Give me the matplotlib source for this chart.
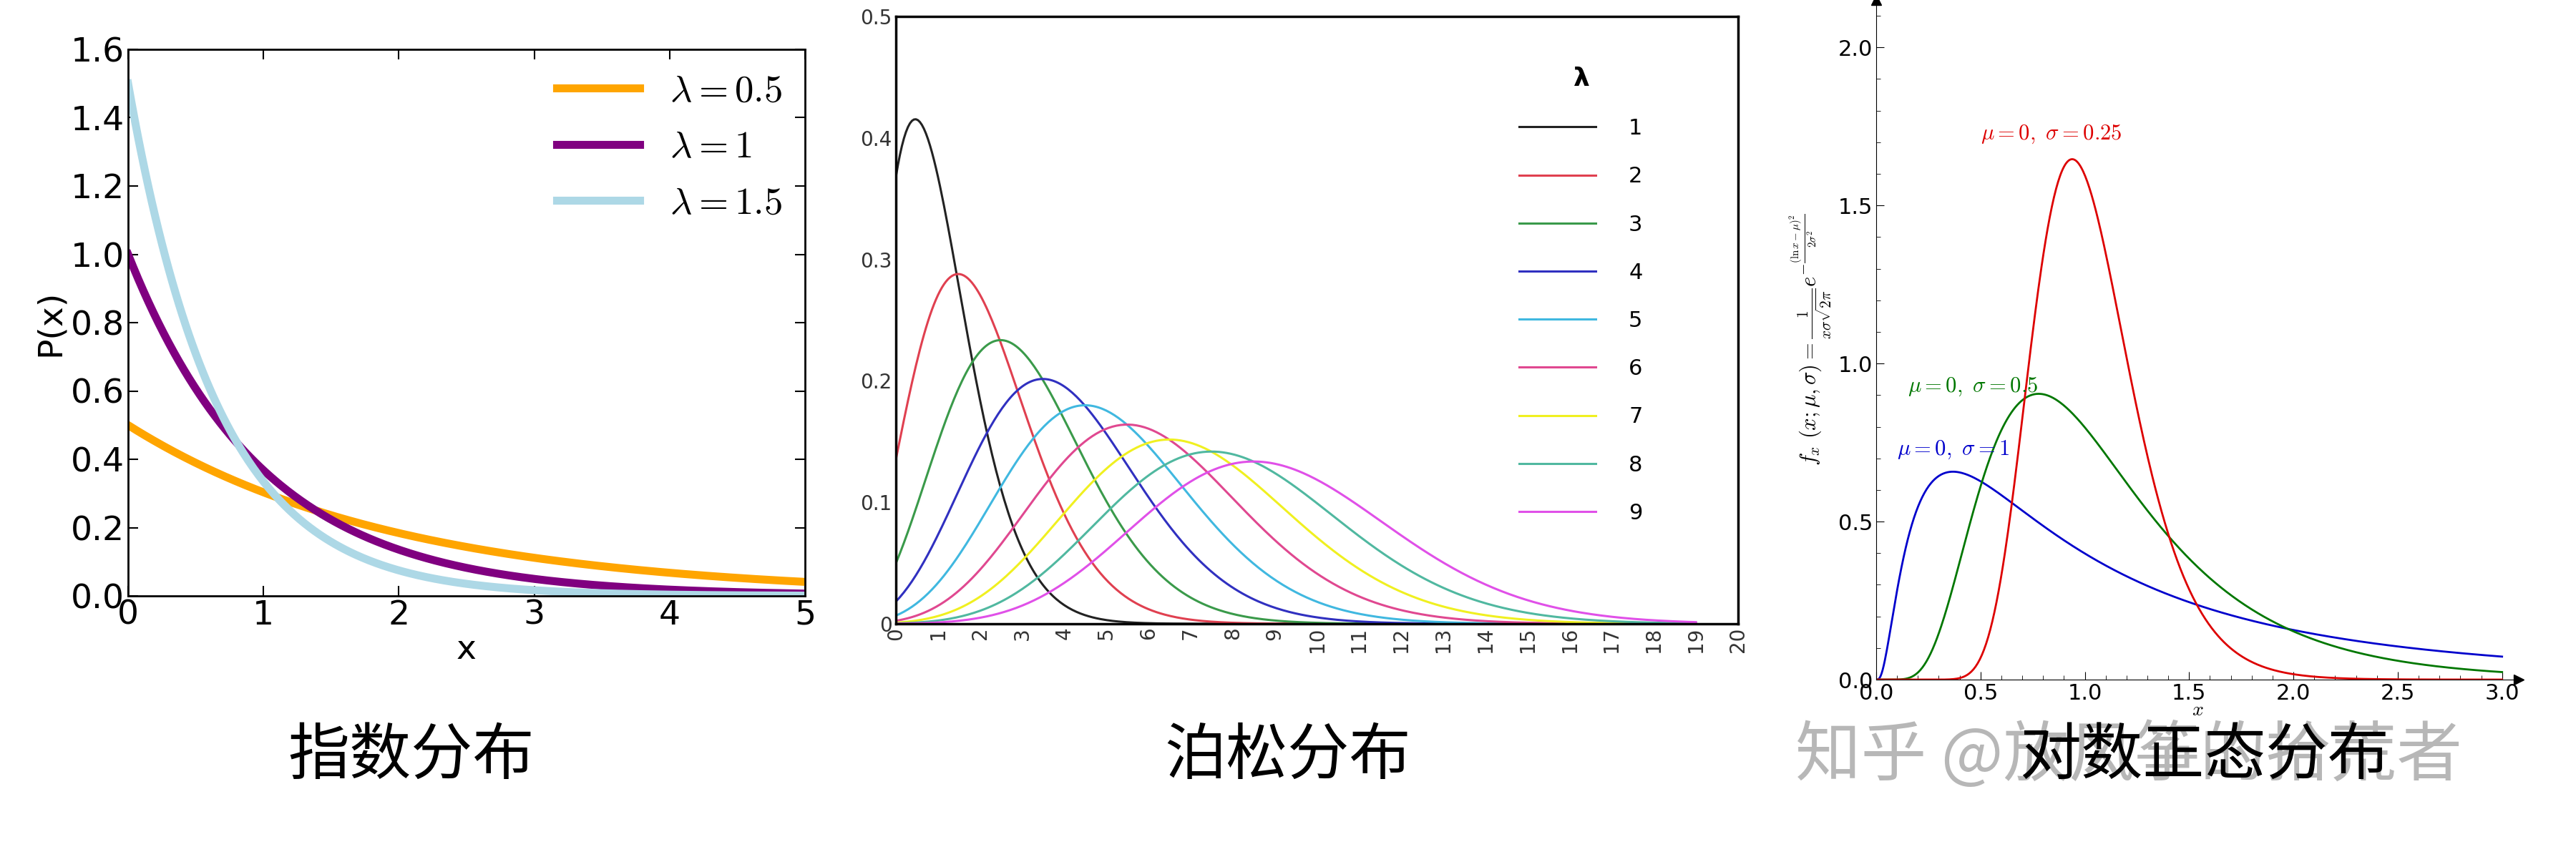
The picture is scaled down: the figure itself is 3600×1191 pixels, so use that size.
import math
import numpy as np
import matplotlib
matplotlib.use("Agg")
import matplotlib.pyplot as plt

plt.rcParams['font.family'] = ['DejaVu Sans', 'Noto Sans CJK SC']

# Data (distribution parameters)
exp_lambdas = [0.5, 1, 1.5]
exp_colors = ['orange', 'purple', 'lightblue']
poisson_lambdas = [1, 2, 3, 4, 5, 6, 7, 8, 9]
poisson_colors = ['#222222', '#e04050', '#3a9a4a', '#3030c0', '#40b8e0',
                  '#e04890', '#f0f020', '#50b8a0', '#e050e8']
lognorm_params = [(0, 1.0), (0, 0.5), (0, 0.25)]
lognorm_colors = ['#0000cc', '#007700', '#dd0000']
lognorm_labels = [r'$\mu=0,\ \sigma=1$', r'$\mu=0,\ \sigma=0.5$', r'$\mu=0,\ \sigma=0.25$']
lognorm_label_pos = [(0.1, 0.71), (0.15, 0.91), (0.5, 1.71)]
titles = ['指数分布', '泊松分布', '对数正态分布']

W, H = 3600, 1191
fig = plt.figure(figsize=(W/100, H/100), dpi=100)

def ax_at(l, r, t, b):
    return fig.add_axes([l/W, 1-b/H, (r-l)/W, (b-t)/H])

# Panel 1: exponential
ax1 = ax_at(179, 1125, 69, 833)
x = np.linspace(0, 5, 400)
for lam, c in zip(exp_lambdas, exp_colors):
    ax1.plot(x, lam*np.exp(-lam*x), color=c, lw=8, label=r'$\lambda=%g$' % lam)
ax1.set_xlim(0, 5); ax1.set_ylim(0, 1.6)
ax1.set_yticks(np.arange(0, 1.61, 0.2))
ax1.tick_params(labelsize=34, length=10, width=1.5, direction='in', right=True, top=True)
ax1.set_xlabel('x', fontsize=34, labelpad=2)
ax1.set_ylabel('P(x)', fontsize=34)
for s in ax1.spines.values(): s.set_linewidth(2)
leg1 = ax1.legend(fontsize=38, frameon=False, loc='upper right', handlelength=2.2,
                  borderaxespad=0.2)
for t in leg1.get_texts():
    t.set_math_fontfamily('cm')

# Panel 2: Poisson (continuous via gamma)
ax2 = ax_at(1252, 2429, 23, 872)
xs = np.linspace(0, 19, 400)
for lam, c in zip(poisson_lambdas, poisson_colors):
    y = np.array([math.exp(xx*math.log(lam) - lam - math.lgamma(xx+1)) for xx in xs])
    ax2.plot(xs, y, color=c, lw=2.2, label=str(lam))
ax2.set_xlim(0, 20); ax2.set_ylim(0, 0.5)
ax2.set_xticks(range(0, 21))
ax2.set_yticks([0, 0.1, 0.2, 0.3, 0.4, 0.5])
ax2.set_yticklabels(['0', '0.1', '0.2', '0.3', '0.4', '0.5'])
ax2.tick_params(axis='x', labelrotation=90, labelsize=20, colors='#333333', length=0)
ax2.tick_params(axis='y', labelsize=20, colors='#333333', length=0, pad=4)
for s in ax2.spines.values(): s.set_linewidth(2.5)
leg = ax2.legend(title=r'$\mathbf{\lambda}$', fontsize=22, frameon=False,
                 loc='upper right', bbox_to_anchor=(0.91, 0.95), handlelength=3.5,
                 labelspacing=1.25, handletextpad=1.5)
leg.get_title().set_fontsize(26)

# Panel 3: lognormal
ax3 = ax_at(2622, 3520, 0, 950)
x3 = np.linspace(0.001, 3, 600)
for (mu, sg), c, lab, pos in zip(lognorm_params, lognorm_colors, lognorm_labels, lognorm_label_pos):
    y = 1/(x3*sg*np.sqrt(2*np.pi))*np.exp(-(np.log(x3)-mu)**2/(2*sg**2))
    ax3.plot(x3, y, color=c, lw=2)
    ax3.text(pos[0], pos[1], lab, color=c, fontsize=22, math_fontfamily='cm')
ax3.set_xlim(0, 3.08); ax3.set_ylim(0, 2.15)
ax3.set_xticks(np.arange(0, 3.01, 0.5))
ax3.set_yticks([0, 0.5, 1.0, 1.5, 2.0])
ax3.set_xticks(np.arange(0, 3.01, 0.1), minor=True)
ax3.set_yticks(np.arange(0, 2.11, 0.1), minor=True)
ax3.xaxis.set_major_formatter(matplotlib.ticker.FormatStrFormatter('%.1f'))
ax3.yaxis.set_major_formatter(matplotlib.ticker.FormatStrFormatter('%.1f'))
ax3.tick_params(labelsize=22, direction='in', length=8, which='major')
ax3.tick_params(direction='in', length=4, which='minor')
ax3.spines['top'].set_visible(False); ax3.spines['right'].set_visible(False)
ax3.plot(1, 0, '>k', transform=ax3.transAxes, clip_on=False, ms=10)
ax3.plot(0, 1, '^k', transform=ax3.transAxes, clip_on=False, ms=10)
ax3.set_xlabel(r'$x$', fontsize=20, labelpad=-4, math_fontfamily='cm')
ax3.set_ylabel(r'$f_x\ (x;\mu,\sigma)=\frac{1}{x\sigma\sqrt{2\pi}}e^{-\frac{(\ln x-\mu)^2}{2\sigma^2}}$',
               fontsize=22, math_fontfamily='cm')

# Watermark and titles
fig.text(2975/W, 1-1058/H, '知乎 @放风筝的拾荒者', fontsize=66, color='#b0b0b0',
         family=['Noto Sans CJK SC'], ha='center', va='center', alpha=0.9)
for xc, t in zip([575, 1800, 3080], titles):
    fig.text(xc/W, 1-1058/H, t, fontsize=62, color='black',
             family=['Noto Sans CJK SC'], ha='center', va='center')

fig.savefig('out.png', dpi=100)
